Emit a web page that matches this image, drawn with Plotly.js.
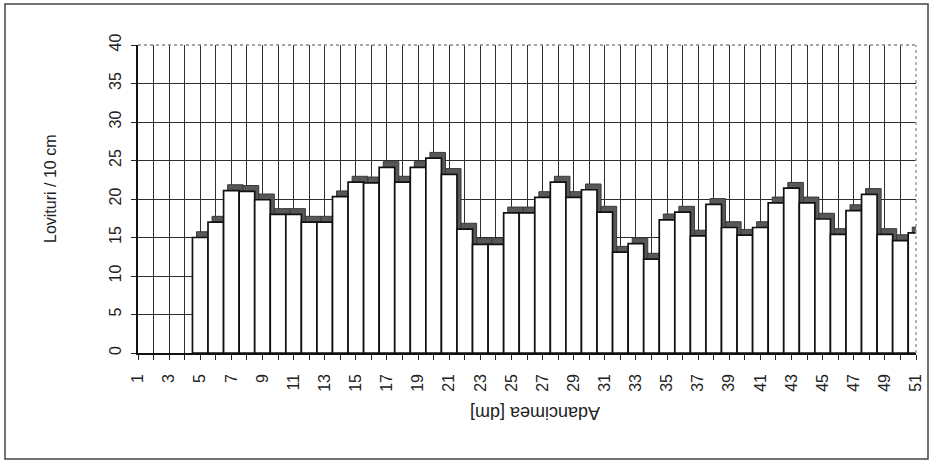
<!DOCTYPE html>
<html>
<head>
<meta charset="utf-8">
<script src="https://cdn.plot.ly/plotly-3.0.1.min.js"></script>
<style>html,body{margin:0;padding:0;background:#fff;}#chart{width:934px;height:466px;}</style>
</head>
<body>
<div id="chart"></div>
<script>
// ---- data ----
const depth = [5,6,7,8,9,10,11,12,13,14,15,16,17,18,19,20,21,22,23,24,25,26,27,28,29,30,31,32,33,34,35,36,37,38,39,40,41,42,43,44,45,46,47,48,49,50,51];
const blows = [15.0,17.0,21.1,21.0,19.9,18.0,18.0,17.0,17.0,20.3,22.2,22.1,24.1,22.2,24.1,25.3,23.2,16.1,14.1,14.1,18.2,18.2,20.2,22.2,20.2,21.2,18.3,13.1,14.2,12.2,17.3,18.3,15.2,19.3,16.3,15.3,16.3,19.5,21.4,19.5,17.4,15.4,18.5,20.6,15.4,14.6,15.6];
const xTicks = [1,2,3,4,5,6,7,8,9,10,11,12,13,14,15,16,17,18,19,20,21,22,23,24,25,26,27,28,29,30,31,32,33,34,35,36,37,38,39,40,41,42,43,44,45,46,47,48,49,50,51];
const xTickText = ["1","","3","","5","","7","","9","","11","","13","","15","","17","","19","","21","","23","","25","","27","","29","","31","","33","","35","","37","","39","","41","","43","","45","","47","","49","","51"];
const yTicks = [0,5,10,15,20,25,30,35,40];
const xTitle = "Adancimea [dm]";
const yTitle = "Lovituri / 10 cm";

// ---- layout geometry (pixels) ----
const W = 934, H = 466;
const L = 138, R = 916, T = 45, B = 353;
const px = x => (x - L) / (R - L);
const py = y => (B - y) / (B - T);
const FONT = "Liberation Sans, Arial, sans-serif";

const shadow = {
  type: 'bar', x: depth, y: blows, base: 0.75,
  width: 1, offset: -0.24,
  marker: {color: '#585858', line: {color: '#3a3a3a', width: 1}},
  hoverinfo: 'skip', showlegend: false
};
const bars = {
  type: 'bar', x: depth, y: blows,
  width: 1, offset: -0.5,
  marker: {color: '#ffffff', line: {color: '#111111', width: 1.7}},
  showlegend: false
};

const layout = {
  width: W, height: H,
  margin: {l: L, r: W - R, t: T, b: H - B, pad: 0},
  paper_bgcolor: '#ffffff', plot_bgcolor: '#ffffff',
  barmode: 'overlay', bargap: 0,
  font: {family: FONT, color: '#222'},
  xaxis: {
    range: [1, 51], tickmode: 'array', tickvals: xTicks, ticktext: xTickText,
    tickangle: -90, ticks: 'outside', ticklen: 5, tickcolor: '#222', tickwidth: 1,
    ticklabelstandoff: 8,
    showgrid: true, gridcolor: '#2e2e2e', gridwidth: 1,
    showline: true, linecolor: '#111', linewidth: 1.6, zeroline: false,
    tickfont: {family: FONT, size: 16, color: '#222'}, fixedrange: true
  },
  yaxis: {
    range: [0, 40], tickmode: 'array', tickvals: yTicks,
    tickangle: -90, ticks: 'outside', ticklen: 5, tickcolor: '#222', tickwidth: 1,
    ticklabelstandoff: 4,
    showgrid: true, gridcolor: '#2e2e2e', gridwidth: 1,
    showline: true, linecolor: '#111', linewidth: 1.6, zeroline: false,
    tickfont: {family: FONT, size: 16, color: '#222'}, fixedrange: true
  },
  shapes: [
    {type: 'rect', xref: 'paper', yref: 'paper', x0: px(5), x1: px(928), y0: py(459), y1: py(4),
     line: {color: '#444', width: 1.5}, fillcolor: 'rgba(0,0,0,0)', layer: 'below'},
    {type: 'line', xref: 'paper', yref: 'paper', x0: 0, x1: 1, y0: 1, y1: 1,
     line: {color: '#888', width: 1.5, dash: 'dot'}},
    {type: 'line', xref: 'paper', yref: 'paper', x0: 1, x1: 1, y0: 0, y1: 1,
     line: {color: '#99a', width: 1.5, dash: 'dot'}}
  ],
  annotations: [
    {text: yTitle, xref: 'paper', yref: 'paper', x: px(50), y: py(189), textangle: -90,
     showarrow: false, font: {family: FONT, size: 16, color: '#222'}, xanchor: 'center', yanchor: 'middle'},
    {text: xTitle, xref: 'paper', yref: 'paper', x: px(535), y: py(413), textangle: 180,
     showarrow: false, font: {family: FONT, size: 18, color: '#222'}, xanchor: 'center', yanchor: 'middle'}
  ]
};

Plotly.newPlot('chart', [shadow, bars], layout, {displayModeBar: false, staticPlot: true});
</script>
</body>
</html>
